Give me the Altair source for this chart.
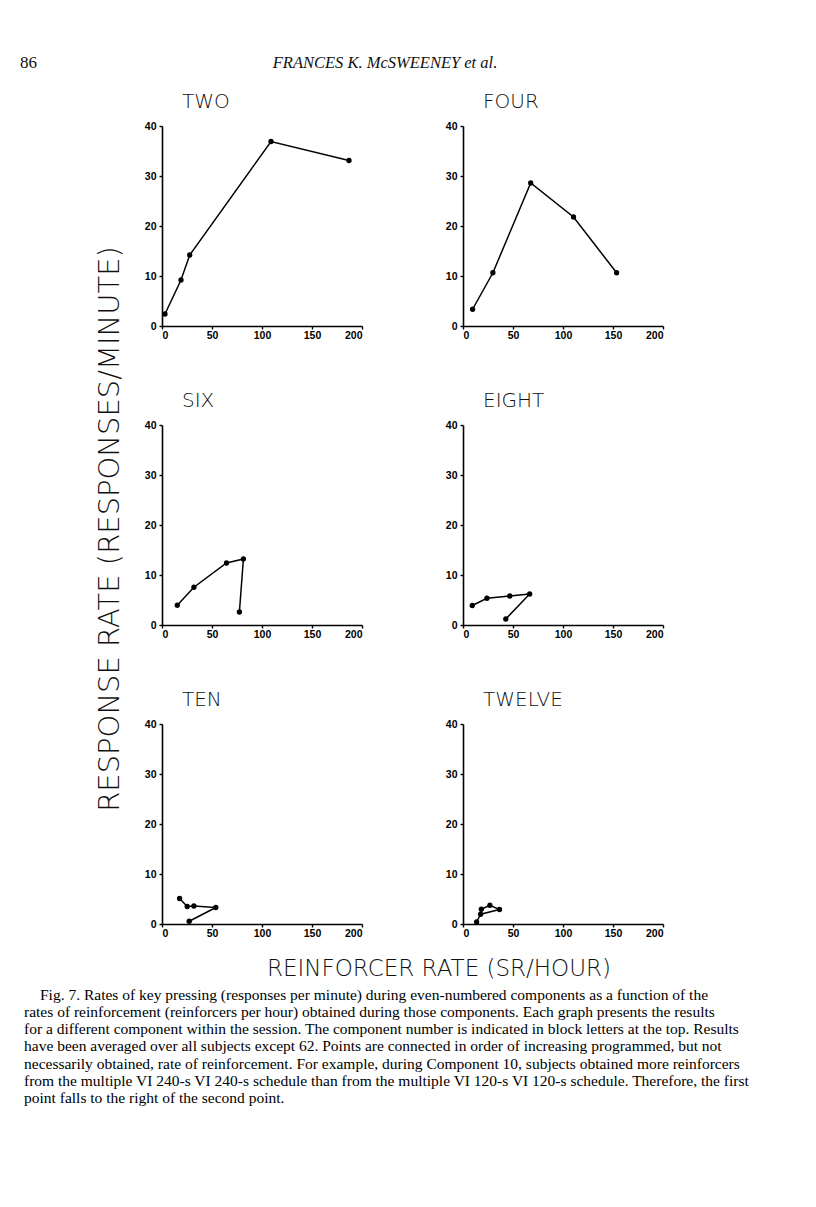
import altair as alt
import pandas as pd

# ---- data (reinforcers/hour, responses/minute) ----
panel_names = ["TWO", "FOUR", "SIX", "EIGHT", "TEN", "TWELVE"]

two_x = [3, 19, 27.7, 109, 187]
two_y = [2.4, 9.2, 14.2, 36.9, 33.1]
four_x = [9.6, 29.9, 67.7, 110.5, 153.6]
four_y = [3.35, 10.65, 28.6, 21.8, 10.65]
six_x = [15.3, 31.9, 64.5, 81.4, 77.4]
six_y = [3.95, 7.55, 12.4, 13.2, 2.6]
eight_x = [9.3, 23.9, 46.8, 66.7, 42.8]
eight_y = [3.9, 5.35, 5.8, 6.2, 1.2]
ten_x = [17.6, 25.2, 31.9, 53.8, 27.2]
ten_y = [5.1, 3.5, 3.6, 3.3, 0.55]
twelve_x = [18.3, 26.9, 36.5, 17.6, 13.6]
twelve_y = [2.95, 3.75, 2.9, 1.95, 0.4]

x_ticks = [0, 50, 100, 150, 200]
y_ticks = [0, 10, 20, 30, 40]

header_page = "86"
header_author = "FRANCES K. McSWEENEY et al."
y_title = "RESPONSE RATE (RESPONSES/MINUTE)"
x_title = "REINFORCER RATE (SR/HOUR)"
caption_first = ("Fig. 7.  Rates of key pressing (responses per minute) during even-numbered "
                 "components as a function of the")
caption_rest = [
    "rates of reinforcement (reinforcers per hour) obtained during those components. Each graph presents the results",
    "for a different component within the session. The component number is indicated in block letters at the top. Results",
    "have been averaged over all subjects except 62. Points are connected in order of increasing programmed, but not",
    "necessarily obtained, rate of reinforcement. For example, during Component 10, subjects obtained more reinforcers",
    "from the multiple VI 240-s VI 240-s schedule than from the multiple VI 120-s VI 120-s schedule. Therefore, the first",
    "point falls to the right of the second point.",
]

series = [(two_x, two_y), (four_x, four_y), (six_x, six_y),
          (eight_x, eight_y), (ten_x, ten_y), (twelve_x, twelve_y)]

W, H = 200, 200
BLOCK = "DejaVu Sans"
SERIF = "Liberation Serif"

AXIS_STYLE = dict(
    grid=False, domainColor="black", domainWidth=1.6,
    tickColor="black", tickWidth=1.4, tickSize=3,
    labelFont="Liberation Sans", labelFontWeight="bold", labelFontSize=10.5,
    labelColor="black", title=None,
)


def text_layer(txt, x, y, **kw):
    d = pd.DataFrame({"t": [txt]})
    return alt.Chart(d).mark_text(**kw).encode(
        text="t:N", x=alt.value(x), y=alt.value(y))


def panel(name, xs, ys, extras=()):
    df = pd.DataFrame({"rate": xs, "resp": ys, "i": list(range(len(xs)))})
    base = alt.Chart(df).encode(
        x=alt.X("rate:Q", scale=alt.Scale(domain=[0, 200], nice=False),
                axis=alt.Axis(values=x_ticks, labelPadding=1, **AXIS_STYLE)),
        y=alt.Y("resp:Q", scale=alt.Scale(domain=[0, 40], nice=False),
                axis=alt.Axis(values=y_ticks, labelPadding=3, **AXIS_STYLE)),
    )
    line = base.mark_line(color="black", strokeWidth=1.5).encode(order="i:Q")
    pts = base.mark_circle(color="black", size=28, opacity=1)
    ttl = text_layer(name, 20, -18, font=BLOCK, fontSize=20, fontWeight=300,
                     align="left", baseline="alphabetic", color="#111")
    return alt.layer(line, pts, ttl, *extras).properties(width=W, height=H)


extras = {name: [] for name in panel_names}
extras["TWO"] = [
    text_layer(header_page, -142, -58, font=SERIF, fontSize=17, align="left",
               baseline="alphabetic", color="#111"),
    text_layer(header_author, 223, -58, font=SERIF, fontSize=16.5, fontStyle="italic",
               align="center", baseline="alphabetic", color="#111"),
]
extras["SIX"] = [
    text_layer(y_title, -52, 104, font=BLOCK, fontSize=29, fontWeight=300, angle=270,
               align="center", baseline="middle", color="#111"),
]
cap_df = pd.DataFrame({"t": [0]})
extras["TEN"] = [
    text_layer(x_title, 277, 252, font=BLOCK, fontSize=23, fontWeight=300,
               align="center", baseline="alphabetic", color="#111"),
    text_layer(caption_first, -122, 275.5, font=SERIF, fontSize=15.5,
               align="left", baseline="alphabetic", color="black"),
    alt.Chart(cap_df).mark_text(text=caption_rest, font=SERIF, fontSize=15.5, lineHeight=17.3,
                                align="left", baseline="alphabetic", color="black").encode(
        x=alt.value(-138), y=alt.value(292.8)),
]

panels = [panel(n, xs, ys, extras[n]) for n, (xs, ys) in zip(panel_names, series)]

chart = alt.concat(*panels, columns=2, spacing={"row": 99, "column": 101},
                   bounds="flush").properties(
    padding={"left": 12, "top": 46, "right": 5, "bottom": 5},
    background="white",
).configure_view(stroke=None)

chart.save("out.html", embed_options={"renderer": "svg", "actions": False})
